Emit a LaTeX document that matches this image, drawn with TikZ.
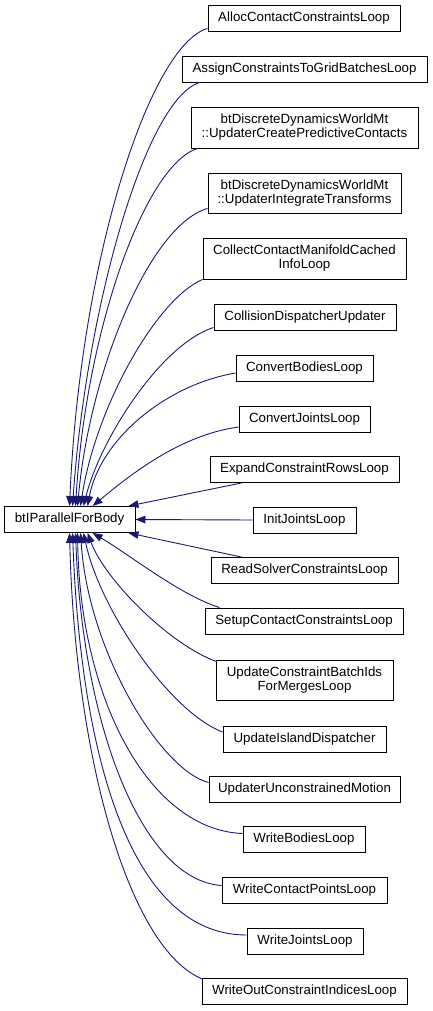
\documentclass[tikz,border=0pt]{standalone}
\usepackage{fontspec}
\setmainfont{Liberation Sans}
\usetikzlibrary{arrows.meta,calc}
\definecolor{edgeblue}{RGB}{25,25,112}
\begin{document}
\begin{tikzpicture}[x=1pt,y=-1pt,
  box/.style={draw=black,line width=0.9pt,fill=white,inner sep=0pt,minimum height=26pt,
    font=\fontsize{13.3}{14}\selectfont,align=center},
  twoline/.style={box,minimum height=41pt},
  edge/.style={draw=edgeblue,line width=0.9pt,-{Triangle[length=10pt,width=7.5pt]}}]
\useasboundingbox (0,0) rectangle (432,1011);
\node[box,minimum width=131pt] (base) at (69.5,519.5) {btIParallelForBody};
\node[box,minimum width=192pt] (alloc) at (304,18) {AllocContactConstraintsLoop};
\node[box,minimum width=245pt] (assign) at (304.5,69) {AssignConstraintsToGridBatchesLoop};
\node[twoline,minimum width=227pt] (create) at (304.5,127.5) {btDiscreteDynamicsWorldMt\\::UpdaterCreatePredictiveContacts};
\node[twoline,minimum width=193pt,minimum height=40pt] (integ) at (304.5,193) {btDiscreteDynamicsWorldMt\\::UpdaterIntegrateTransforms};
\node[twoline,minimum width=203pt] (collect) at (304.5,258.5) {CollectContactManifoldCached\\InfoLoop};
\node[box,minimum width=182pt] (collision) at (305,317) {CollisionDispatcherUpdater};
\node[box,minimum width=137pt] (convb) at (304.5,368) {ConvertBodiesLoop};
\node[box,minimum width=131pt] (convj) at (304.5,419) {ConvertJointsLoop};
\node[box,minimum width=189pt] (expand) at (304.5,469.5) {ExpandConstraintRowsLoop};
\node[box,minimum width=103pt] (initj) at (304.5,520) {InitJointsLoop};
\node[box,minimum width=187pt] (read) at (304.5,570.5) {ReadSolverConstraintsLoop};
\node[box,minimum width=198pt] (setup) at (304,621) {SetupContactConstraintsLoop};
\node[twoline,minimum width=177pt,minimum height=40pt] (updcb) at (304.5,680) {UpdateConstraintBatchIds\\ForMergesLoop};
\node[box,minimum width=163pt] (updis) at (304.5,739) {UpdateIslandDispatcher};
\node[box,minimum width=191pt] (updun) at (304.5,789.5) {UpdaterUnconstrainedMotion};
\node[box,minimum width=122pt] (wbod) at (304,839.5) {WriteBodiesLoop};
\node[box,minimum width=165pt] (wcon) at (304.5,890.5) {WriteContactPointsLoop};
\node[box,minimum width=116pt] (wjoi) at (305,941) {WriteJointsLoop};
\node[box,minimum width=205pt] (wout) at (304.5,991.5) {WriteOutConstraintIndicesLoop};
% upper edges
\draw[edge] ($(alloc.south west)+(0,-3)$) .. controls (150,45) and (80,260) .. ($(base.north west)+(66,0)$);
\draw[edge] ($(assign.south west)+(18,0)$) .. controls (145,100) and (86,310) .. ($(base.north west)+(69,0)$);
\draw[edge] ($(create.south west)+(7,0)$) .. controls (145,165) and (86,330) .. ($(base.north west)+(72,0)$);
\draw[edge] ($(integ.south west)+(0,-5)$) .. controls (150,225) and (90,370) .. ($(base.north west)+(74,0)$);
\draw[edge] (collect.south west) .. controls (155,300) and (95,410) .. ($(base.north west)+(77,0)$);
\draw[edge] ($(collision.south west)+(0,-3)$) .. controls (160,345) and (100,440) .. ($(base.north west)+(80,0)$);
\draw[edge] ($(convb.west)+(0,5)$) .. controls (165,385) and (100,440) .. ($(base.north west)+(84,0)$);
\draw[edge] ($(convj.west)+(0,8)$) .. controls (180,435) and (130,475) .. ($(base.north west)+(89,0)$);
\draw[edge] ($(expand.south west)+(32,0)$) -- ($(base.north east)+(-7,0)$);
\draw[edge] (initj.west) -- (base.east);
% lower edges
\draw[edge] ($(read.north west)+(31,0)$) -- ($(base.south east)+(-7,0)$);
\draw[edge] ($(setup.north west)+(15,0)$) .. controls (180,595) and (130,555) .. ($(base.south west)+(89,0)$);
\draw[edge] ($(updcb.north west)+(1,2)$) .. controls (170,645) and (105,580) .. ($(base.south west)+(84,0)$);
\draw[edge] ($(updis.west)+(0,-7)$) .. controls (170,712) and (100,610) .. ($(base.south west)+(80,0)$);
\draw[edge] ($(updun.west)+(0,-7)$) .. controls (160,770) and (88,650) .. ($(base.south west)+(77,0)$);
\draw[edge] ($(wbod.west)+(0,-6)$) .. controls (150,830) and (80,700) .. ($(base.south west)+(74,0)$);
\draw[edge] ($(wcon.west)+(0,-5)$) .. controls (140,880) and (82,720) .. ($(base.south west)+(72,0)$);
\draw[edge] ($(wjoi.west)+(0,-6)$) .. controls (125,935) and (80,740) .. ($(base.south west)+(69,0)$);
\draw[edge] ($(wout.north west)+(1,1)$) .. controls (130,950) and (75,760) .. ($(base.south west)+(66,0)$);
\end{tikzpicture}
\end{document}
